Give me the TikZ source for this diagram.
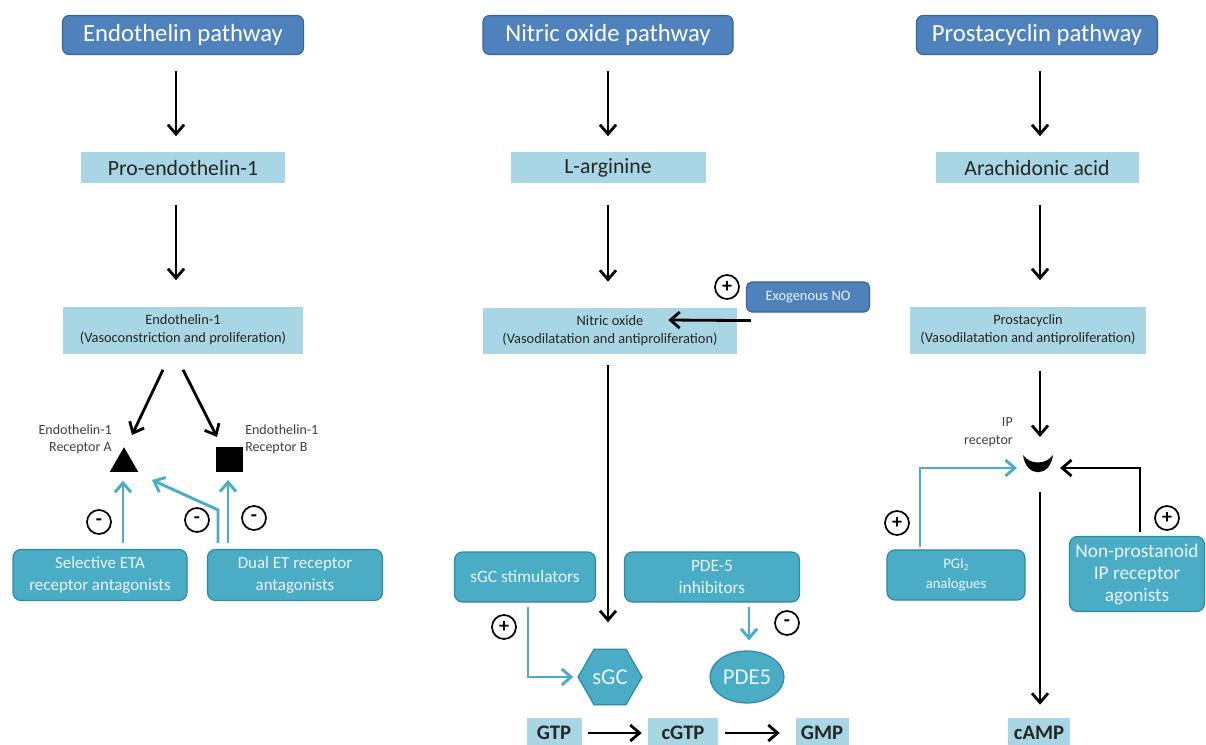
\documentclass[tikz,border=0pt]{standalone}
\usepackage{fontspec}
\setmainfont{Carlito}
\usetikzlibrary{arrows.meta,shapes.geometric,calc}
\definecolor{titleblue}{HTML}{4F81BD}
\definecolor{titleedge}{HTML}{3A6594}
\definecolor{lightbox}{HTML}{A8D6E4}
\definecolor{tealbox}{HTML}{4BACC6}
\definecolor{tealedge}{HTML}{2E8AA3}
\definecolor{darktext}{HTML}{262626}
\definecolor{labeltext}{HTML}{404040}
\definecolor{tealtext}{HTML}{EAF5F8}
\tikzset{
  titlebox/.style={draw=titleedge, line width=0.9pt, fill=titleblue, rounded corners=5pt,
    text=white, font=\fontsize{18.5}{21}\selectfont, minimum height=29.25pt, inner sep=0pt},
  lbox/.style={fill=lightbox, text=darktext, inner sep=0pt, align=center},
  tbox/.style={draw=tealedge, line width=0.9pt, fill=tealbox, rounded corners=6pt,
    text=tealtext, inner sep=0pt, align=center},
  arr/.style={draw=black, line width=2.1pt, -{Straight Barb[length=7pt,width=12pt,line width=2.1pt]}},
  tarr/.style={draw=tealbox, line width=2.2pt, -{Straight Barb[length=7pt,width=12pt,line width=2.2pt]}},
  sign/.style={circle, draw=black, line width=1.3pt, minimum size=18pt, inner sep=0pt,
    font=\fontsize{15}{15}\selectfont\bfseries},
  rlabel/.style={text=labeltext, font=\fontsize{10.5}{13}\selectfont, inner sep=0pt},
  medtext/.style={font=\fontsize{10.8}{13.5}\selectfont},
  prodtext/.style={font=\fontsize{15.5}{17}\selectfont\bfseries},
}
\begin{document}
\begin{tikzpicture}[x=0.75pt, y=-0.75pt]
\clip (0,0) rectangle (1206,745);
\fill[white] (0,0) rectangle (1206,745);

% titles
\node[titlebox, minimum width=180.75pt] (t1) at (183,35) {Endothelin pathway};
\node[titlebox, minimum width=187.5pt] (t2) at (608,35) {Nitric oxide pathway};
\node[titlebox, minimum width=180.75pt] (t3) at (1037,35) {Prostacyclin pathway};

% precursors
\node[lbox, minimum width=153pt, minimum height=23.25pt, font=\fontsize{16.3}{18}\selectfont] (p1) at (183,168) {Pro-endothelin-1};
\node[lbox, minimum width=146.25pt, minimum height=23.25pt, font=\fontsize{16.3}{18}\selectfont] (p2) at (608,168) {L-arginine};
\node[lbox, minimum width=152.25pt, minimum height=23.25pt, font=\fontsize{16.3}{18}\selectfont] (p3) at (1037,168) {Arachidonic acid};

% mediators
\node[lbox, medtext, minimum width=180pt, minimum height=35.25pt] (e1) at (183,330) {Endothelin-1\\(Vasoconstriction and proliferation)};
\node[lbox, medtext, minimum width=190.5pt, minimum height=34.5pt] (n1) at (610,331) {Nitric oxide\\(Vasodilatation and antiproliferation)};
\node[lbox, medtext, minimum width=177pt, minimum height=35.25pt] (c1) at (1028,330) {Prostacyclin\\(Vasodilatation and antiproliferation)};

% exogenous NO
\node[titlebox, rounded corners=4pt, minimum width=92.25pt, minimum height=22.5pt, font=\fontsize{10.8}{12}\selectfont, text=tealtext] (exo) at (808,297) {Exogenous NO};
\node[sign] (sx) at (727,287) {+};

% vertical black arrows
\draw[arr] ($(t1.south)+(-7,16)$) -- ($(p1.north)+(-7,-16)$);
\draw[arr] ($(p1.south)+(-7,21)$) -- ($(e1.north)+(-7,-26)$);
\draw[arr] ($(t2.south)+(0,16)$) -- ($(p2.north)+(0,-16)$);
\draw[arr] ($(p2.south)+(0,21)$) -- ($(p2.south |- n1.north)+(0,-26)$);
\draw[arr] ($(t3.south)+(3,16)$) -- ($(p3.north)+(3,-16)$);
\draw[arr] ($(p3.south)+(3,21)$) -- ($(p3.south |- c1.north)+(3,-26)$);
\draw[arr] ($(exo.south west)+(5,8)$) -- ($(n1.east)+(-69,-11)$);

% endothelin receptors
\node[regular polygon, regular polygon sides=3, fill=black, minimum size=24.75pt, inner sep=0pt] (tri) at (124,463.7) {};
\node[rectangle, fill=black, minimum width=20.25pt, minimum height=18.75pt, inner sep=0pt] (sq) at (229.5,459.5) {};
\node[rlabel, anchor=east, align=right] (la) at (112,439) {Endothelin-1\\Receptor A};
\node[rlabel, anchor=west, align=left] (lb) at (245,439) {Endothelin-1\\Receptor B};
\draw[arr] ($(e1.south)+(-20,16)$) -- ($(tri.center)+(8,-28.7)$);
\draw[arr] ($(e1.south)+(0,16)$) -- ($(sq.center)+(-12.5,-22.5)$);

% antagonists
\node[tbox, minimum width=130.5pt, minimum height=38.25pt, font=\fontsize{12.7}{16.5}\selectfont] (s1) at (100,575) {Selective ETA\\receptor antagonists};
\node[tbox, minimum width=131.25pt, minimum height=38.25pt, font=\fontsize{12.7}{16.5}\selectfont] (s2) at (295,575) {Dual ET receptor\\antagonists};
\draw[tarr] ($(s1.north)+(23,-6)$) -- ($(tri.center)+(-1,17)$);
\draw[tarr] ($(s2.north)+(-77,-6)$) -- ++(0,-33) -- ($(tri.center)+(28,16.3)$);
\draw[tarr] ($(s2.north)+(-67,-6)$) -- ($(sq.center)+(-1.5,20.5)$);
\node[sign] (m1) at (99,522) {-};
\node[sign] (m2) at (197,520) {-};
\node[sign] (m3) at (254,518) {-};

% nitric oxide branch
\node[tbox, minimum width=105.75pt, minimum height=37.5pt, font=\fontsize{13}{16.5}\selectfont] (sgcs) at (525,577) {sGC stimulators};
\node[tbox, minimum width=131.25pt, minimum height=37.5pt, font=\fontsize{13}{16.5}\selectfont] (pdei) at (712,577) {PDE-5\\inhibitors};
\node[regular polygon, regular polygon sides=6, draw=tealedge, line width=0.9pt, fill=tealbox, minimum size=48pt, inner sep=0pt, text=tealtext, font=\fontsize{17}{18}\selectfont] (sgc) at (610,677) {sGC};
\node[ellipse, draw=tealedge, line width=0.9pt, fill=tealbox, minimum width=55.5pt, minimum height=39pt, inner sep=0pt, text=tealtext, font=\fontsize{17}{18}\selectfont] (pde5) at (747,677) {PDE5};
\draw[arr] ($(n1.south)+(-2,11)$) -- ($(n1.south)+(-2,268)$);
\draw[tarr] ($(sgcs.south)+(3,4)$) |- ($(sgc.west)+(-4,0)$);
\draw[tarr] ($(pdei.south)+(37,4)$) -- ($(pde5.north)+(2,-10)$);
\node[sign] (sp1) at (504,627) {+};
\node[sign] (sm4) at (787,623) {-};

% bottom products
\node[lbox, prodtext, minimum width=41.25pt, minimum height=22.5pt] (gtp) at (554,733) {GTP};
\node[lbox, prodtext, minimum width=52.5pt, minimum height=22.5pt] (cgtp) at (683,733) {cGTP};
\node[lbox, prodtext, minimum width=39.75pt, minimum height=22.5pt] (gmp) at (822,733) {GMP};
\node[lbox, prodtext, minimum width=46.5pt, minimum height=22.5pt] (camp) at (1039,733) {cAMP};
\draw[arr] ($(gtp.east)+(6,0)$) -- ($(cgtp.west)+(-6,0)$);
\draw[arr] ($(cgtp.east)+(7,0)$) -- ($(gmp.west)+(-15.5,0)$);

% prostacyclin branch
\coordinate (ip) at (1038,463);
\fill[black] ($(ip)+(-15,-8)$) .. controls ($(ip)+(-12,15)$) and ($(ip)+(12,15)$) .. ($(ip)+(15,-8)$)
  .. controls ($(ip)+(8,2)$) and ($(ip)+(-8,2)$) .. cycle;
\node[rlabel, anchor=east, align=right, font=\fontsize{10.5}{14}\selectfont] (ipl) at (1013,432) {IP\\receptor};
\draw[arr] ($(c1.south)+(12,17)$) -- ($(ip)+(2,-26)$);
\draw[arr] ($(ip)+(2,29)$) -- ($(camp.north)+(1,-13)$);
\node[tbox, minimum width=103.5pt, minimum height=37.5pt, font=\fontsize{11}{15}\selectfont] (pgi) at (956,575) {PGI\raisebox{-0.3ex}{\fontsize{7}{7}\selectfont 2}\\analogues};
\node[tbox, minimum width=101.25pt, minimum height=56.25pt, font=\fontsize{14.5}{16.5}\selectfont] (nonp) at (1137,574) {Non-prostanoid\\IP receptor\\agonists};
\draw[tarr] ($(pgi.north)+(-36,-2)$) |- ($(ip)+(-21,5)$);
\draw[arr] ($(nonp.north)+(3,-4)$) |- ($(ip)+(22,5)$);
\node[sign] (sp2) at (897,523) {+};
\node[sign] (sp3) at (1167,518) {+};
\end{tikzpicture}
\end{document}
